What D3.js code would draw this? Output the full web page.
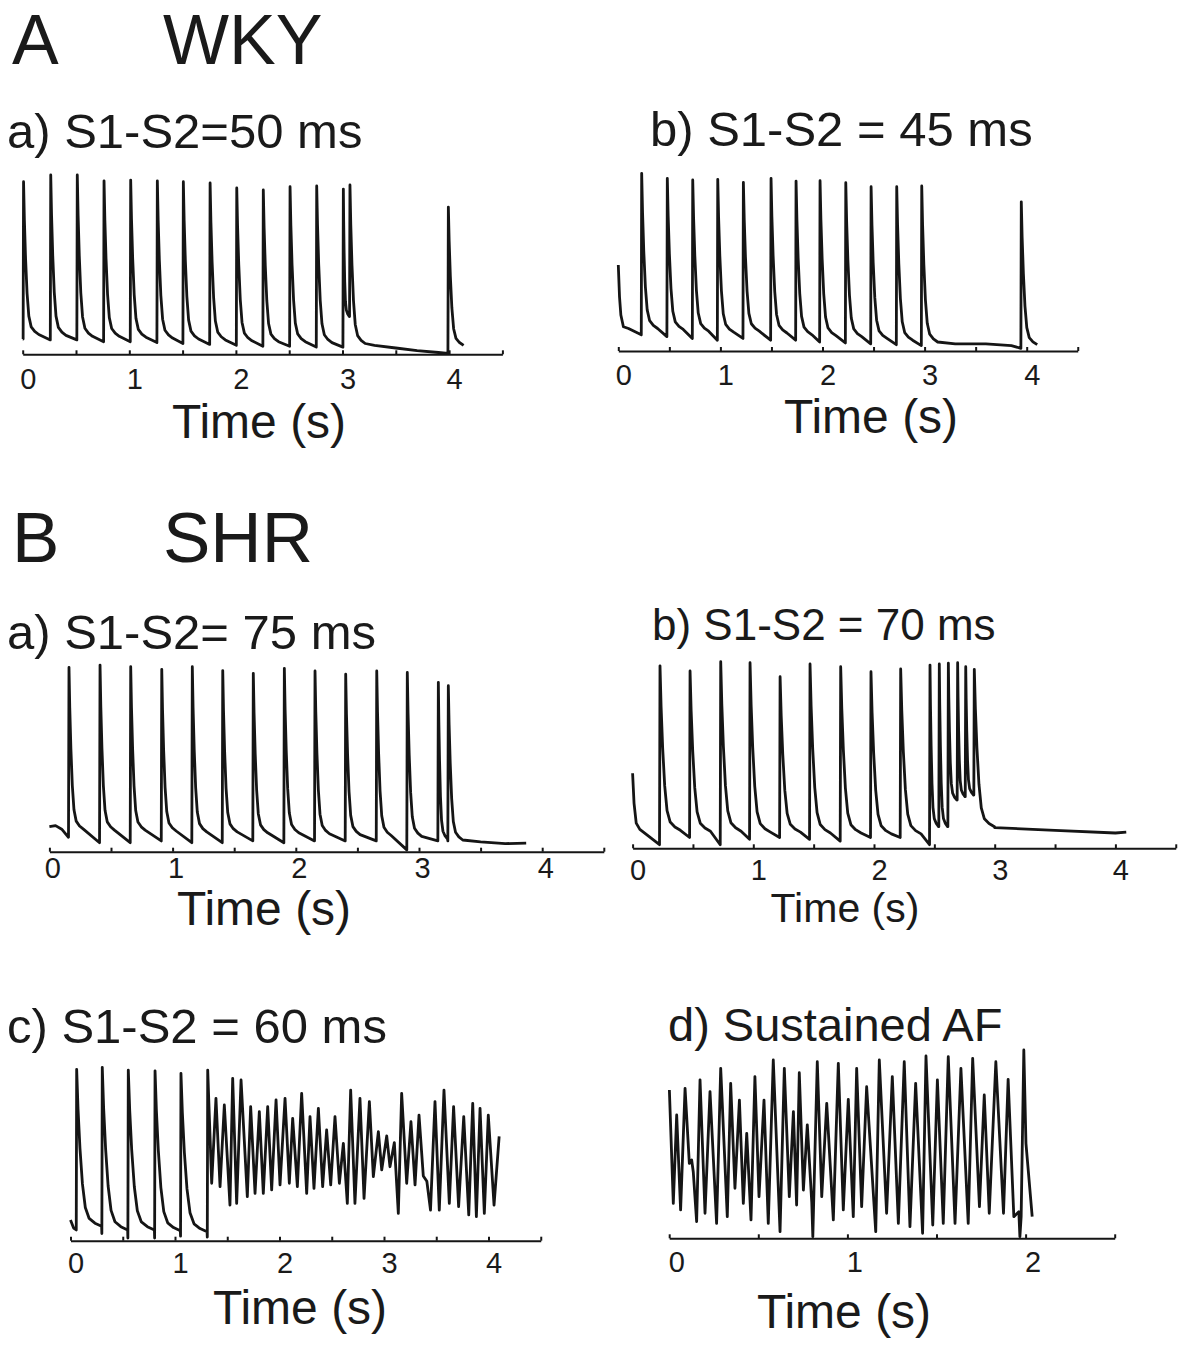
<!DOCTYPE html>
<html>
  <head>
    <meta charset="UTF-8">
    <style>
      body {
        margin: 0;
        background: #fff;
        font-family: "Liberation Sans", Arial, Helvetica, sans-serif;
      }

      svg {
        display: block;
      }

      .trace {
        fill: none;
        stroke: #151515;
        stroke-width: 2.8;
        stroke-linejoin: round;
      }

      .x-axis .domain,
      .x-axis .tick line {
        stroke: #151515;
        stroke-width: 2;
      }

      .x-axis .tick text {
        font-family: "Liberation Sans", Arial, sans-serif;
        font-size: 29px;
        fill: #1a1a1a;
      }

      .big-label,
      .title,
      .x-title {
        fill: #1a1a1a;
      }
    </style>
    <script src="https://d3js.org/d3.v7.min.js"></script>
  </head>

  <body>
    <svg id="figure"></svg>

    <script type="text/javascript">
      // action potential decay: seconds after peak, fraction of (peak - rest) left
      const apShape = [[0, 1], [0.007, 0.75], [0.017, 0.5], [0.03, 0.27], [0.045, 0.12], [0.065, 0.05], [0.095, 0.02], [0.13, 0]]

      // beats: [time (s), level before upstroke, peak, rest level after]
      // A a) WKY, S1-S2 = 50 ms
      const wkyALead = [[0, 8.5]]
      const wkyABeats = [
        [0.008, 8.5, 95.9, 11], [0.263, 8, 99.6, 10.5], [0.512, 8, 99.6, 10], [0.763, 7, 96.4, 10],
        [1.013, 7, 96.8, 9.5], [1.263, 6.5, 96.4, 9], [1.507, 6, 95.9, 8.5], [1.758, 5.5, 95.2, 8],
        [2.008, 5, 92.4, 7.5], [2.257, 4.5, 91.3, 7], [2.508, 4.5, 93.1, 7], [2.758, 4, 93.5, 6.5],
        [3.008, 4, 91.8, 21], [3.070, 21, 94.1, 6], [3.993, 0.5, 81.8, 5]
      ]
      const wkyAQuiet = [[3.3, 5], [3.5, 3.5], [3.7, 2], [3.9, 1]]

      // A b) WKY, S1-S2 = 45 ms
      const wkyBLead = [[0, 47.8], [0.012, 30], [0.025, 20], [0.05, 13.5], [0.1, 12.5]]
      const wkyBBeats = [
        [0.229, 9, 98.7, 12.5], [0.480, 8, 95.9, 12], [0.729, 7, 95, 11], [0.974, 6, 95.4, 10.5],
        [1.225, 7, 93.7, 11], [1.496, 6, 95.9, 10], [1.741, 6, 94.4, 9], [1.976, 5, 94.6, 8.5],
        [2.228, 4.5, 93.5, 8], [2.476, 4, 91.3, 7], [2.727, 3.5, 91.3, 6], [2.972, 3, 91.7, 5],
        [3.947, 1.5, 82.9, 3.5]
      ]
      const wkyBQuiet = [[3.3, 4], [3.6, 4], [3.85, 3]]

      // B a) SHR, S1-S2 = 75 ms
      const shrALead = [[0, 13.9], [0.05, 14.5], [0.1, 12.5]]
      const shrABeats = [
        [0.159, 8, 102.4, 12.5], [0.411, 5, 103.7, 12], [0.660, 5, 102.8, 12], [0.912, 6, 101.3, 11.5],
        [1.160, 5, 102.8, 11], [1.407, 5, 100.6, 11], [1.655, 6, 99.1, 10.5], [1.907, 5, 101.9, 10.5],
        [2.156, 6, 100.4, 10], [2.405, 6, 98.6, 9.5], [2.657, 6, 100.4, 9], [2.905, 1, 99.6, 8.5],
        [3.157, 6, 94.1, 7], [3.238, 6, 92.2, 6.5]
      ]
      const shrAQuiet = [[3.5, 5.5], [3.7, 4.5], [3.87, 4.8]]

      // B b) SHR, S1-S2 = 70 ms
      const shrBLead = [[0, 41.7], [0.012, 25], [0.03, 14], [0.06, 10.5]]
      const shrBBeats = [
        [0.227, 2, 101.4, 10], [0.476, 6, 98.5, 9.5], [0.730, 2, 103.7, 9.5], [0.973, 5, 103.1, 9],
        [1.222, 6, 95.3, 9], [1.470, 5, 102.4, 8.5], [1.724, 4, 100.9, 8.5], [1.975, 6, 98.1, 8],
        [2.221, 6, 99.6, 8], [2.464, 2, 101.8, 12], [2.541, 12, 102.4, 12], [2.616, 12, 102.8, 26.8],
        [2.693, 26.8, 103.1, 28.7], [2.760, 28.7, 100.9, 29.6], [2.831, 29.6, 99.4, 12]
      ]
      const shrBQuiet = [[3.0, 11.5], [3.5, 10], [4.0, 8.5], [4.09, 9]]

      // B c) SHR, S1-S2 = 60 ms, paced beats then AF (wave extremes)
      const shrCLead = [[0, 11.5], [0.03, 7]]
      const shrCBeats = [
        [0.059, 6, 95.2, 8], [0.304, 4, 96.3, 6], [0.553, 1.5, 94.8, 6], [0.809, 1.5, 94.4, 5.5],
        [1.057, 2.5, 93, 5]
      ]
      const shrCWaves = [
        [1.309, 2], [1.313, 94.8],
        [1.351, 31.9], [1.392, 79.1], [1.431, 30.0], [1.472, 75.4], [1.526, 19.8], [1.552, 90.2],
        [1.590, 20.7], [1.632, 89.3], [1.692, 24.5], [1.724, 74.5], [1.766, 26.3], [1.807, 71.7],
        [1.845, 26.3], [1.887, 74.5], [1.925, 28.2], [1.967, 78.2], [2.005, 31.0], [2.053, 79.1],
        [2.094, 31.9], [2.126, 68.0], [2.171, 30.0], [2.212, 81.9], [2.260, 26.3], [2.292, 68.9],
        [2.330, 29.1], [2.372, 73.5], [2.413, 30.0], [2.451, 61.5], [2.490, 31.0], [2.531, 68.9],
        [2.573, 31.9], [2.611, 54.1], [2.649, 20.7], [2.681, 83.7], [2.722, 20.7], [2.770, 79.1],
        [2.809, 23.5], [2.860, 77.3], [2.898, 35.6], [2.946, 60.6], [2.978, 39.3], [3.026, 58.2],
        [3.057, 41.1], [3.099, 54.5], [3.137, 15.2], [3.169, 81.9], [3.217, 31.9], [3.258, 66.1],
        [3.297, 31.0], [3.335, 69.8], [3.376, 36], [3.41, 33], [3.445, 17], [3.488, 77.3],
        [3.529, 17.0], [3.574, 83.7], [3.625, 20.7], [3.666, 74.5], [3.714, 18.9], [3.763, 68.9],
        [3.811, 14.3], [3.849, 76.3], [3.884, 13.4], [3.919, 73.5], [3.96, 15.2], [3.998, 69.8],
        [4.053, 19.8], [4.102, 58]
      ]

      // B d) sustained AF (wave extremes)
      const shrDWaves = [
        [0.001, 82.4], [0.023, 19.4], [0.042, 68.5], [0.064, 15.8], [0.089, 83.3], [0.113, 41.6],
        [0.126, 43.5], [0.135, 37], [0.154, 9.3], [0.173, 88], [0.201, 13.9], [0.229, 81.5],
        [0.266, 8.3], [0.289, 94.4], [0.326, 12], [0.345, 86.1], [0.369, 27.8], [0.394, 76.8],
        [0.416, 19.4], [0.435, 58.3], [0.459, 10.2], [0.481, 89.8], [0.504, 23.1], [0.532, 76.8],
        [0.556, 8.3], [0.584, 99.1], [0.622, 3.7], [0.646, 94.4], [0.674, 23.1], [0.697, 70.4],
        [0.715, 18.5], [0.730, 92], [0.753, 26.8], [0.775, 63], [0.800, 20], [0.806, 0.9],
        [0.812, 25], [0.831, 98.1], [0.856, 23.1], [0.884, 75], [0.921, 10.2], [0.949, 97.2],
        [0.977, 15.8], [1.005, 77.2], [1.033, 12], [1.052, 94.4], [1.080, 17.6], [1.108, 84.2],
        [1.159, 3.7], [1.179, 99.1], [1.220, 13.9], [1.252, 89.8], [1.286, 8.3], [1.319, 98.1],
        [1.351, 6.5], [1.383, 86.1], [1.422, 2.8], [1.441, 101.3], [1.479, 7.4], [1.505, 88],
        [1.538, 8.3], [1.566, 100.9], [1.604, 8.3], [1.637, 94.4], [1.678, 8.3], [1.703, 100],
        [1.741, 17.6], [1.768, 79.6], [1.796, 13.9], [1.833, 98.1], [1.876, 13.9], [1.902, 88.3],
        [1.934, 12], [1.962, 14.8], [1.968, 0.9], [1.975, 12], [1.990, 104.6], [2.002, 52.8],
        [2.037, 12]
      ]

      const groupLabels = [['A', 'WKY'], ['B', 'SHR']]
      const panelTitles = ['a) S1-S2=50 ms', 'b) S1-S2 = 45 ms', 'a) S1-S2= 75 ms', 'b) S1-S2 = 70 ms', 'c) S1-S2 = 60 ms', 'd) Sustained AF']
      const axisTitle = 'Time (s)'

      function getConfig() {
        let width = 1186
        let height = 1347
        let svg = d3.select('#figure')
          .attr('width', width)
          .attr('height', height)

        let groups = [
          { x: 12, nameX: 163, y: 64, size: 70 },
          { x: 12, nameX: 163, y: 562, size: 71 },
        ]

        let panels = [
          { lead: wkyALead, beats: wkyABeats, fixed: wkyAQuiet, w: 1.1,
            x0: 22.7, pps: 106.6, axisY: 354.3, tMax: 4.5, labelY: 35, labelDx: 5,
            title: { x: 7, y: 148, size: 49 }, xTitle: { x: 259, y: 438, size: 48 } },
          { lead: wkyBLead, beats: wkyBBeats, fixed: wkyBQuiet, w: 1.2,
            x0: 618.3, pps: 102.1, axisY: 351, tMax: 4.5, labelY: 34, labelDx: 5,
            title: { x: 650, y: 146, size: 49 }, xTitle: { x: 871, y: 433, size: 48 } },
          { lead: shrALead, beats: shrABeats, fixed: shrAQuiet, w: 0.9,
            x0: 49.4, pps: 123.2, axisY: 851.7, tMax: 4.5, labelY: 26, labelDx: 3,
            title: { x: 7, y: 649, size: 49 }, xTitle: { x: 264, y: 925, size: 48 } },
          { lead: shrBLead, beats: shrBBeats, fixed: shrBQuiet, w: 1.3,
            x0: 632.6, pps: 120.7, axisY: 848.3, tMax: 4.5, labelY: 32, labelDx: 5,
            title: { x: 652, y: 640, size: 44 }, xTitle: { x: 845, y: 922, size: 41 } },
          { lead: shrCLead, beats: shrCBeats, fixed: shrCWaves, w: 2.2,
            x0: 70.5, pps: 104.5, axisY: 1240.7, tMax: 4.5, labelY: 32, labelDx: 5,
            title: { x: 7, y: 1043, size: 49 }, xTitle: { x: 300, y: 1324, size: 48 } },
          { lead: [], beats: [], fixed: shrDWaves, w: 1,
            x0: 669.2, pps: 178.2, axisY: 1238.3, tMax: 2.5, labelY: 33.5, labelDx: 7,
            title: { x: 668, y: 1041, size: 47 }, xTitle: { x: 844, y: 1328, size: 48 } },
        ]

        return { svg, groups, panels }
      }

      function buildTrace(panel) {
        let shapeEnd = apShape[apShape.length - 1][0]
        let points = panel.lead.slice()

        panel.beats.forEach((beat, i) => {
          let [t, pre, peak, rest] = beat
          let limit = i < panel.beats.length - 1 ? panel.beats[i + 1][0] - 0.004 : Infinity
          panel.fixed.forEach(p => {
            if (p[0] > t && p[0] < limit) limit = p[0]
          })
          let stretch = Math.min(panel.w, (limit - t - 0.002) / shapeEnd)

          points.push([t - 0.004, pre])
          apShape.forEach(([dt, f]) => points.push([t + dt * stretch, rest + (peak - rest) * f]))
        })

        return points.concat(panel.fixed).sort((a, b) => a[0] - b[0])
      }

      function drawPanel(panel, config, i) {
        let svg = config.svg

        let x = d3.scaleLinear()
          .domain([0, panel.tMax])
          .range([panel.x0, panel.x0 + panel.tMax * panel.pps])

        let y = d3.scaleLinear()
          .domain([0, 100])
          .range([panel.axisY, panel.axisY - 180])

        let ticks = d3.range(0, panel.tMax + 0.001, 0.5)
        let axis = d3.axisBottom(x)
          .tickValues(ticks)
          .tickSizeInner(-4)
          .tickSizeOuter(0)
          .tickFormat(d => Number.isInteger(d) ? d3.format('d')(d) : '')

        let g = svg.append('g')
          .attr('class', 'x-axis')
          .attr('transform', `translate(0, ${panel.axisY})`)
          .call(axis)

        g.selectAll('.tick text')
          .attr('y', panel.labelY)
          .attr('dy', 0)
          .attr('dx', panel.labelDx)

        svg.append('path')
          .attr('class', 'trace')
          .datum(buildTrace(panel))
          .attr('d', d3.line()
            .x(d => x(d[0]))
            .y(d => y(d[1])))

        svg.append('text')
          .attr('class', 'title')
          .attr('x', panel.title.x)
          .attr('y', panel.title.y)
          .style('font-size', `${panel.title.size}px`)
          .text(panelTitles[i])

        svg.append('text')
          .attr('class', 'x-title')
          .attr('x', panel.xTitle.x)
          .attr('y', panel.xTitle.y)
          .attr('text-anchor', 'middle')
          .style('font-size', `${panel.xTitle.size}px`)
          .text(axisTitle)
      }

      function drawGroupLabels(config) {
        config.groups.forEach((g, i) => {
          config.svg.append('text')
            .attr('class', 'big-label')
            .attr('x', g.x)
            .attr('y', g.y)
            .style('font-size', `${g.size}px`)
            .text(groupLabels[i][0])

          config.svg.append('text')
            .attr('class', 'big-label')
            .attr('x', g.nameX)
            .attr('y', g.y)
            .style('font-size', `${g.size}px`)
            .text(groupLabels[i][1])
        })
      }

      let config = getConfig()
      drawGroupLabels(config)
      config.panels.forEach((panel, i) => drawPanel(panel, config, i))
    </script>
  </body>
</html>
